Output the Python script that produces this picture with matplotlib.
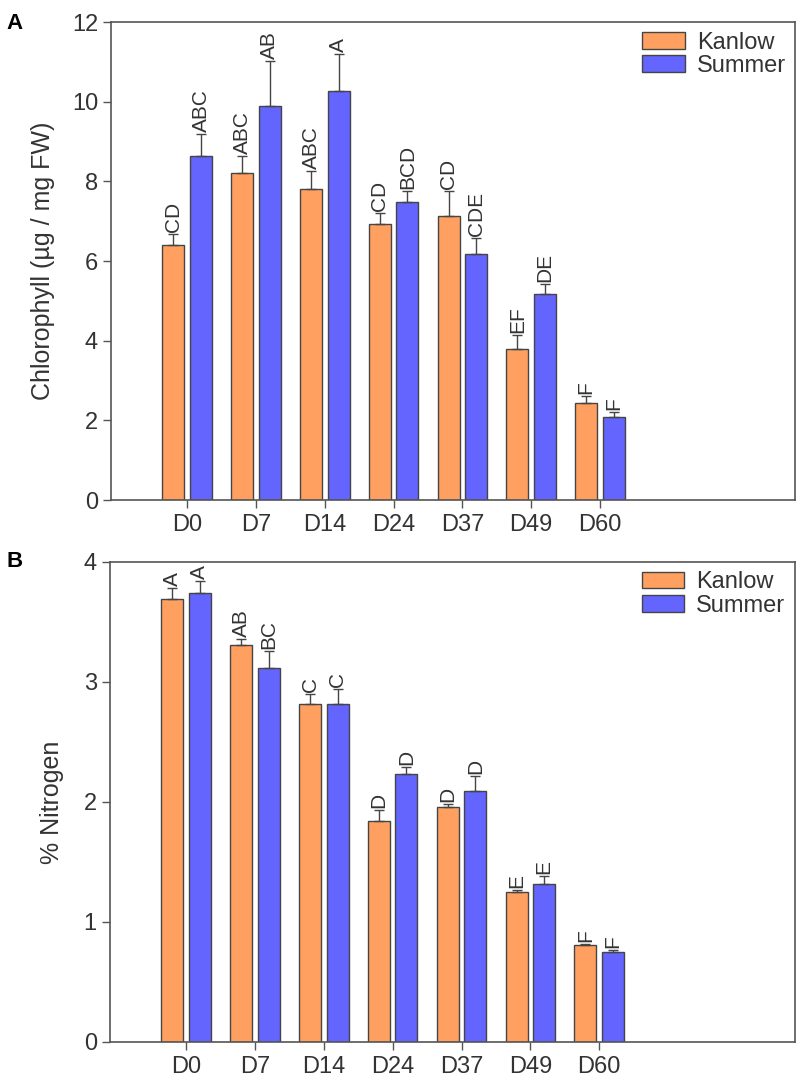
import numpy as np
import matplotlib
matplotlib.use("Agg")
import matplotlib.pyplot as plt

plt.rcParams['font.family'] = ['Liberation Sans', 'DejaVu Sans']

days = ["D0", "D7", "D14", "D24", "D37", "D49", "D60"]

# panel A: chlorophyll
chl_kanlow = [6.40, 8.21, 7.80, 6.93, 7.13, 3.80, 2.44]
chl_kanlow_err = [0.28, 0.44, 0.47, 0.27, 0.62, 0.35, 0.16]
chl_summer = [8.64, 9.89, 10.28, 7.48, 6.18, 5.18, 2.09]
chl_summer_err = [0.55, 1.14, 0.92, 0.28, 0.39, 0.24, 0.11]
chl_kanlow_lbl = ["CD", "ABC", "ABC", "CD", "CD", "EF", "F"]
chl_summer_lbl = ["ABC", "AB", "A", "BCD", "CDE", "DE", "F"]

# panel B: nitrogen
n_kanlow = [3.69, 3.31, 2.82, 1.84, 1.96, 1.25, 0.81]
n_kanlow_err = [0.095, 0.045, 0.08, 0.09, 0.02, 0.017, 0.01]
n_summer = [3.74, 3.12, 2.82, 2.23, 2.09, 1.32, 0.75]
n_summer_err = [0.10, 0.14, 0.12, 0.06, 0.13, 0.066, 0.017]
n_kanlow_lbl = ["A", "AB", "C", "D", "D", "E", "F"]
n_summer_lbl = ["A", "BC", "C", "D", "D", "E", "F"]

orange = "#FFA060"
blue = "#6464FF"
edge = "#454545"
txt = "#333333"

fig = plt.figure(figsize=(8, 10.77), dpi=100)
axA = fig.add_axes([0.139, 0.5357, 0.855, 0.4438])
axB = fig.add_axes([0.1375, 0.0325, 0.856, 0.4457])

x = np.arange(len(days))
w = 0.32
off = 0.2


def draw(ax, k, ke, s, se, kl, sl, ymax, pad):
    ax.bar(x - off, k, w, color=orange, edgecolor=edge, linewidth=1.0, label="Kanlow", zorder=2)
    ax.bar(x + off, s, w, color=blue, edgecolor=edge, linewidth=1.0, label="Summer", zorder=2)
    for xs, v, e in [(x - off, k, ke), (x + off, s, se)]:
        ax.errorbar(xs, v, yerr=[np.zeros(len(v)), e], fmt="none", ecolor=edge,
                    elinewidth=1.0, capsize=3.5, capthick=1.0, zorder=3)
    for i in range(len(days)):
        ax.text(x[i] - off, k[i] + ke[i] + pad, kl[i], rotation=90, ha="center", va="bottom",
                fontsize=15, color=txt)
        ax.text(x[i] + off, s[i] + se[i] + pad, sl[i], rotation=90, ha="center", va="bottom",
                fontsize=15, color=txt)
    ax.set_xlim(-1.105, 8.84)
    ax.set_ylim(0, ymax)
    ax.set_xticks(x)
    ax.set_xticklabels(days)
    for sp in ax.spines.values():
        sp.set_color("#555555")
        sp.set_linewidth(1.2)
    ax.tick_params(axis="both", colors="#555555", labelcolor=txt, labelsize=17,
                   length=6, width=1.0, direction="out")
    ax.tick_params(axis="x", pad=4)
    leg = ax.legend(loc="upper right", frameon=False, fontsize=17, handlelength=1.8,
                    handleheight=0.7, handletextpad=0.5, labelspacing=0.05,
                    borderaxespad=0.1, borderpad=0.3)
    for t in leg.get_texts():
        t.set_color(txt)


draw(axA, chl_kanlow, chl_kanlow_err, chl_summer, chl_summer_err,
     chl_kanlow_lbl, chl_summer_lbl, 12, 0.05)
axA.set_yticks([0, 2, 4, 6, 8, 10, 12])
axA.set_ylabel("Chlorophyll (\u00b5g / mg FW)", fontsize=18, color=txt, labelpad=12)

draw(axB, n_kanlow, n_kanlow_err, n_summer, n_summer_err,
     n_kanlow_lbl, n_summer_lbl, 4, 0.017)
axB.set_yticks([0, 1, 2, 3, 4])
axB.set_ylabel("% Nitrogen", fontsize=18, color=txt, labelpad=14)

fig.text(0.008, 0.988, "A", fontsize=16, fontweight="bold", va="top")
fig.text(0.008, 0.488, "B", fontsize=16, fontweight="bold", va="top")

fig.savefig("out.png", dpi=100)
